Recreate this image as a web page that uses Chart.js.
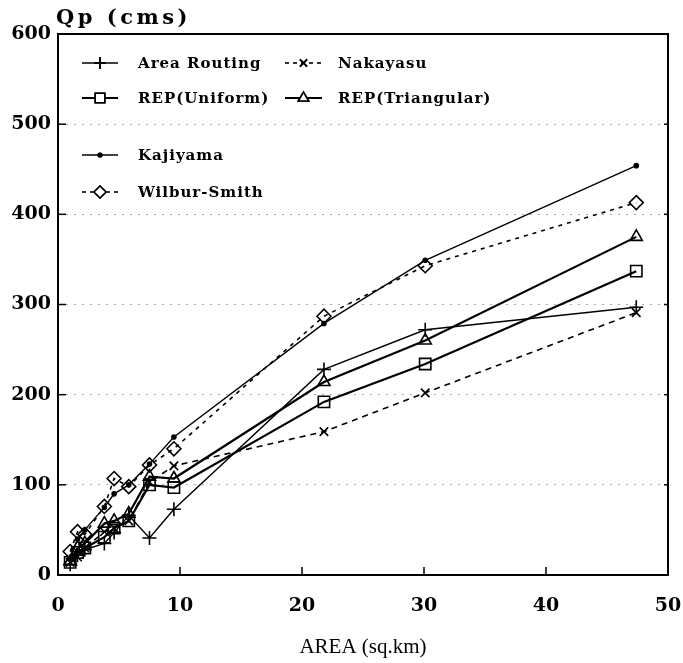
<!DOCTYPE html>
<html>
<head>
<meta charset="utf-8">
<script src="https://cdn.jsdelivr.net/npm/chart.js@4/dist/chart.umd.min.js"></script>
<style>
  html, body { margin: 0; padding: 0; background: #fff; }
  #wrap { width: 683px; height: 663px; }
</style>
</head>
<body>
<div id="wrap"><canvas id="c" width="683" height="663"></canvas></div>
<script>
// ---- data ----
const areas         = [1.0, 1.6, 2.2, 3.8, 4.6, 5.8, 7.5, 9.5, 21.8, 30.1, 47.4];
const areaRouting   = [12, 22, 28, 35, 47, 66, 41, 73, 228, 272, 297];
const nakayasu      = [14, 20, 30, 48, 52, 60, 103, 121, 159, 202, 291];
const repUniform    = [14, 25, 30, 42, 52, 60, 100, 97, 192, 234, 337];
const repTriangular = [15, 30, 35, 57, 60, 68, 109, 107, 214, 260, 375];
const kajiyama      = [18, 40, 50, 75, 90, 100, 123, 153, 279, 349, 454];
const wilburSmith   = [26, 48, 45, 76, 107, 98, 122, 140, 287, 343, 413];
const xTicks = [0, 10, 20, 30, 40, 50];
const yTicks = [0, 100, 200, 300, 400, 500, 600];
const xTitle = 'AREA (sq.km)';
const yTitle = 'Qp (cms)';

function pts(ys) { return areas.map((x, i) => ({ x: x, y: ys[i] })); }

const seriesDefs = [
  { label: 'Area Routing',    data: areaRouting,   style: 'cross',    r: 7,  dash: [],     w: 1.4, col: 0, row: 0 },
  { label: 'Nakayasu',        data: nakayasu,      style: 'crossRot', r: 6,  dash: [6, 5], w: 1.6, col: 1, row: 0 },
  { label: 'REP(Uniform)',    data: repUniform,    style: 'rect',     r: 8,  dash: [],     w: 2.2, col: 0, row: 1 },
  { label: 'REP(Triangular)', data: repTriangular, style: 'triangle', r: 7,  dash: [],     w: 2.2, col: 1, row: 1 },
  { label: 'Kajiyama',        data: kajiyama,      style: 'circle',   r: 2,  dash: [],     w: 1.4, col: 0, row: 2 },
  { label: 'Wilbur-Smith',    data: wilburSmith,   style: 'rectRot',  r: 7,  dash: [4, 5], w: 1.6, col: 0, row: 3 }
];

const datasets = seriesDefs.map(s => ({
  label: s.label,
  data: pts(s.data),
  borderColor: '#000',
  backgroundColor: s.style === 'circle' ? '#000' : '#fff',
  pointStyle: s.style,
  pointRadius: s.r,
  pointBorderWidth: 1.6,
  pointBorderColor: '#000',
  pointBackgroundColor: s.style === 'circle' ? '#000' : 'rgba(255,255,255,0)',
  borderWidth: s.w,
  borderDash: s.dash,
  tension: 0,
  fill: false,
  _col: s.col, _row: s.row
}));

const framePlugin = {
  id: 'frame',
  afterDatasetsDraw(chart) {
    const { ctx, chartArea: a, scales } = chart;
    ctx.save();
    ctx.strokeStyle = '#000';
    ctx.lineWidth = 2;
    ctx.setLineDash([]);
    ctx.strokeRect(a.left, a.top, a.right - a.left, a.bottom - a.top);
    ctx.lineWidth = 1.5;
    // x ticks inside (pointing up)
    xTicks.forEach(v => {
      if (v === 0 || v === 50) return;
      const x = scales.x.getPixelForValue(v);
      ctx.beginPath(); ctx.moveTo(x, a.bottom); ctx.lineTo(x, a.bottom - 8); ctx.stroke();
    });
    // y ticks inside
    yTicks.forEach(v => {
      if (v === 0 || v === 600) return;
      const y = scales.y.getPixelForValue(v);
      ctx.beginPath(); ctx.moveTo(a.left, y); ctx.lineTo(a.left + 8, y); ctx.stroke();
      ctx.beginPath(); ctx.moveTo(a.right, y); ctx.lineTo(a.right - 4, y); ctx.stroke();
    });
    // y axis title at top-left
    ctx.fillStyle = '#000';
    ctx.font = 'bold 21px "DejaVu Serif"';
    ctx.letterSpacing = '3.5px';
    ctx.textAlign = 'left';
    ctx.textBaseline = 'middle';
    ctx.fillText(yTitle, a.left - 2, a.top - 15);
    ctx.restore();
  }
};

const legendPlugin = {
  id: 'customLegend',
  afterDatasetsDraw(chart) {
    const { ctx } = chart;
    const helpers = Chart.helpers;
    const rowsY = [63, 98, 155, 192];
    const colX = [{ l0: 82, l1: 118, t: 138 }, { l0: 285, l1: 322, t: 338 }];
    ctx.save();
    chart.data.datasets.forEach(ds => {
      const c = colX[ds._col];
      const y = rowsY[ds._row];
      ctx.strokeStyle = '#000';
      ctx.lineWidth = ds.borderWidth;
      ctx.setLineDash(ds.borderDash.length ? [4, 4] : []);
      ctx.beginPath(); ctx.moveTo(c.l0, y); ctx.lineTo(c.l1, y); ctx.stroke();
      ctx.setLineDash([]);
      ctx.lineWidth = 1.6;
      ctx.fillStyle = ds.pointStyle === 'circle' ? '#000' : '#fff';
      const r = ds.pointStyle === 'circle' ? 1.8 : ds.pointRadius * 0.85;
      helpers.drawPoint(ctx, { pointStyle: ds.pointStyle, radius: r, rotation: 0, borderWidth: 1.6 }, (c.l0 + c.l1) / 2, y);
      if (ds.pointStyle !== 'circle' && ds.pointStyle !== 'cross' && ds.pointStyle !== 'crossRot') ctx.fill();
      ctx.stroke();
      ctx.fillStyle = '#000';
      ctx.font = 'bold 15px "DejaVu Serif"';
      ctx.letterSpacing = '1px';
      ctx.textAlign = 'left';
      ctx.textBaseline = 'middle';
      ctx.fillText(ds.label, c.t, y + 1);
    });
    ctx.restore();
  }
};

new Chart(document.getElementById('c'), {
  type: 'line',
  data: { datasets: datasets },
  plugins: [framePlugin, legendPlugin],
  options: {
    responsive: false,
    animation: false,
    devicePixelRatio: 1,
    layout: { padding: { top: 34, right: 0, left: 0, bottom: 0 } },
    plugins: { legend: { display: false }, tooltip: { enabled: false }, title: { display: false } },
    elements: { line: { borderCapStyle: 'butt' } },
    scales: {
      x: {
        type: 'linear', min: 0, max: 50,
        afterBuildTicks(scale) { scale.ticks = xTicks.map(v => ({ value: v })); },
        afterFit(scale) { scale.height = 88; scale.paddingRight = 15; },
        grid: { display: false, drawTicks: false },
        border: { display: false },
        ticks: { color: '#000', font: { family: 'DejaVu Serif', weight: 'bold', size: 19 }, padding: 20, maxRotation: 0 },
        title: { display: true, text: xTitle, color: '#000', font: { family: 'Liberation Serif', size: 21 }, padding: { top: 0, bottom: 3 } }
      },
      y: {
        min: 0, max: 600,
        afterBuildTicks(scale) { scale.ticks = yTicks.map(v => ({ value: v })); },
        afterFit(scale) { scale.width = 58; },
        grid: { color: '#aaaaaa', lineWidth: 1, drawTicks: false },
        border: { display: false, dash: [2, 6] },
        ticks: { color: '#000', font: { family: 'DejaVu Serif', weight: 'bold', size: 19 }, padding: 7 }
      }
    }
  }
});
</script>
</body>
</html>
